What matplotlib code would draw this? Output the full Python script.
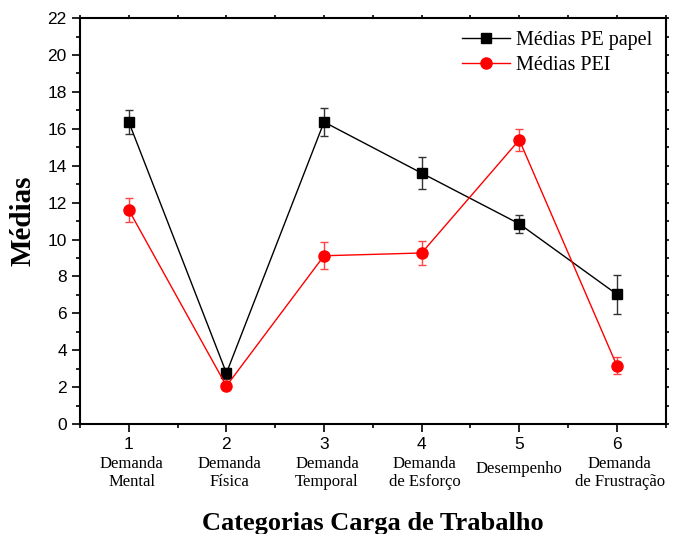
import numpy as np
import matplotlib.pyplot as plt
from matplotlib.ticker import MultipleLocator

# data
x = [1, 2, 3, 4, 5, 6]
cat_names = ['Demanda\nMental', 'Demanda\nFísica', 'Demanda\nTemporal',
             'Demanda\nde Esforço', 'Desempenho', 'Demanda\nde Frustração']
papel = [16.37, 2.76, 16.37, 13.6, 10.85, 7.03]
papel_err = [0.67, 0.3, 0.75, 0.88, 0.47, 1.07]
pei = [11.6, 2.06, 9.12, 9.27, 15.4, 3.16]
pei_err = [0.63, 0.2, 0.73, 0.66, 0.6, 0.45]

serif = 'Liberation Serif'
sans = 'Liberation Sans'

fig = plt.figure(figsize=(6.74, 5.34), dpi=100)
ax = fig.add_axes([0.1187, 0.206, 0.869, 0.760])

# error bars first, lines/markers on top (legend without bars)
ax.errorbar(x, papel, yerr=papel_err, fmt='none', capsize=3, elinewidth=1,
            ecolor='#333333')
ax.errorbar(x, pei, yerr=pei_err, fmt='none', capsize=3, elinewidth=1,
            ecolor='#ff4444')
ax.plot(x, papel, color='black', marker='s', markersize=7, lw=1,
        label='Médias PE papel')
ax.plot(x, pei, color='red', marker='o', markersize=8, lw=1,
        label='Médias PEI')

ax.set_xlim(0.5, 6.5)
ax.set_ylim(0, 22)
ax.set_xticks(x)
ax.xaxis.set_minor_locator(MultipleLocator(0.5))
ax.yaxis.set_major_locator(MultipleLocator(2))
ax.yaxis.set_minor_locator(MultipleLocator(1))
ax.tick_params(which='both', direction='out', width=1.2)
ax.tick_params(which='major', length=6, labelsize=12.5)
ax.tick_params(which='minor', length=3)
# faint short ticks on top and right like the original
ax.tick_params(which='both', top=True, right=True)
for t in ax.xaxis.get_ticklines(minor=False)[1::2] + ax.xaxis.get_ticklines(minor=True)[1::2]:
    t.set_markersize(2)
    t.set_color('#999999')
for t in ax.yaxis.get_ticklines(minor=False)[1::2] + ax.yaxis.get_ticklines(minor=True)[1::2]:
    t.set_markersize(2)
    t.set_color('#999999')
for lab in ax.get_xticklabels() + ax.get_yticklabels():
    lab.set_fontfamily(sans)
for s in ax.spines.values():
    s.set_linewidth(1.5)

for xi, name in zip(x, cat_names):
    if '\n' in name:
        ax.text(xi + 0.03, -0.08, name, transform=ax.get_xaxis_transform(), ha='center',
                va='top', family=serif, fontsize=12, linespacing=1.1)
    else:
        ax.text(xi, -0.11, name, transform=ax.get_xaxis_transform(), ha='center',
                va='center', family=serif, fontsize=12)

ax.set_xlabel('Categorias Carga de Trabalho', family=serif, fontsize=19,
              fontweight='bold', labelpad=43)
ax.set_ylabel('Médias', family=serif, fontsize=21, fontweight='bold', labelpad=8)

ax.legend(loc='upper right', frameon=False, prop={'family': serif, 'size': 14.5},
          handlelength=2.4, handletextpad=0.3, borderaxespad=0.25, labelspacing=0.3)

fig.savefig('out.png', dpi=100)
